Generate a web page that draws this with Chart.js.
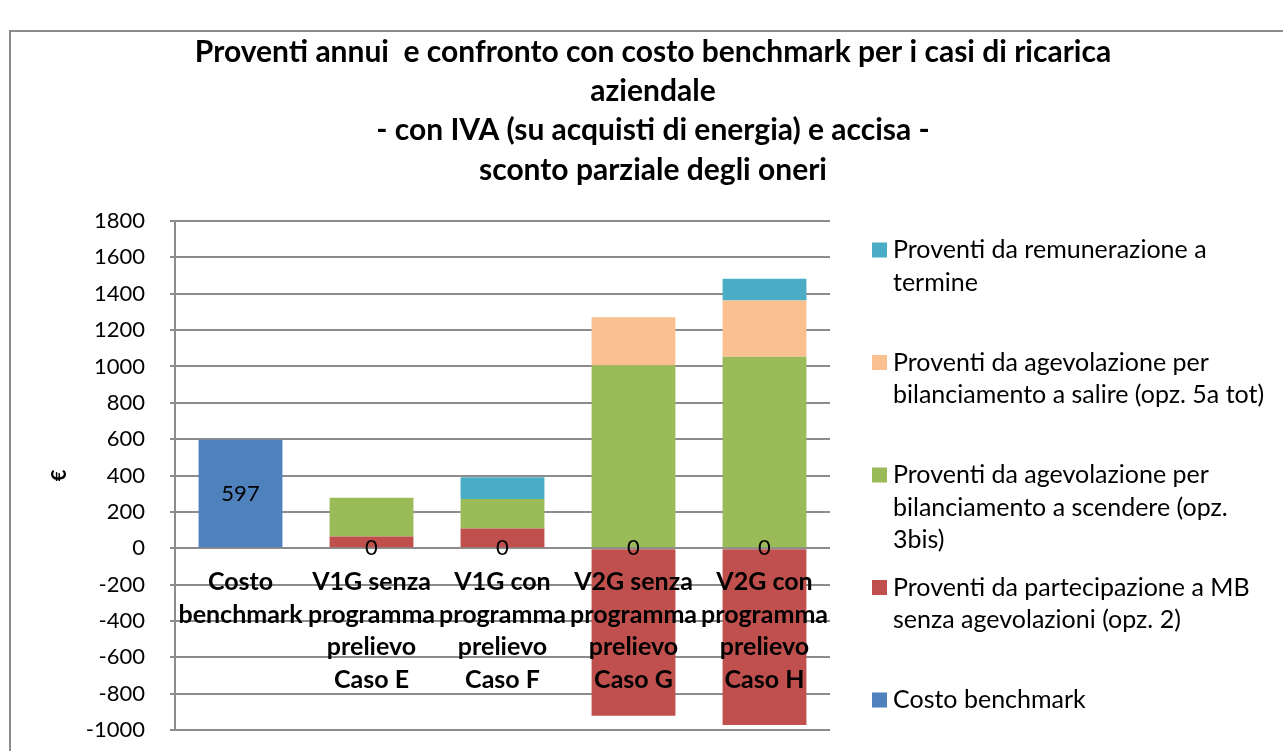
<!DOCTYPE html>
<html>
<head>
<meta charset="utf-8">
<script src="https://cdn.jsdelivr.net/npm/chart.js@4.4.1/dist/chart.umd.min.js"></script>
<style>
  html, body { margin: 0; padding: 0; background: #fff; }
  #wrap { position: relative; width: 1283px; height: 751px; }
</style>
</head>
<body>
<div id="wrap"><canvas id="chart" width="1283" height="751"></canvas></div>
<script>
// --- Données ---
const categories = [
    ['Costo', 'benchmark'],
    ['V1G senza', 'programma', 'prelievo', 'Caso E'],
    ['V1G con', 'programma', 'prelievo', 'Caso F'],
    ['V2G senza', 'programma', 'prelievo', 'Caso G'],
    ['V2G con', 'programma', 'prelievo', 'Caso H']
];
const costoBenchmark = [597, 0, 0, 0, 0];
const proventiMB = [0, 65, 109, -921, -972];
const proventiScendere = [0, 213, 162, 1005, 1053];
const proventiSalire = [0, 0, 0, 265, 310];
const proventiTermine = [0, 0, 120, 0, 120];

const titleLines = [
    'Proventi annui  e confronto con costo benchmark per i casi di ricarica',
    'aziendale',
    '- con IVA (su acquisti di energia) e accisa -',
    'sconto parziale degli oneri'
];
const yAxisTitle = '€';
// legend, in the order shown (top to bottom)
const legendItems = [
    { color: '#4BACC6', lines: ['Proventi da remunerazione a', 'termine'] },
    { color: '#FAC090', lines: ['Proventi da agevolazione per', 'bilanciamento a salire (opz. 5a tot)'] },
    { color: '#9BBB59', lines: ['Proventi da agevolazione per', 'bilanciamento a scendere (opz.', '3bis)'] },
    { color: '#C0504D', lines: ['Proventi da partecipazione a MB', 'senza agevolazioni (opz. 2)'] },
    { color: '#4F81BD', lines: ['Costo benchmark'] }
];

const FONT = 'Lato, "Open Sans", sans-serif';
const GRID = '#8c8c8c';

// Cadre, titre, légende, étiquettes des catégories et des valeurs
const decorPlugin = {
    id: 'decor',
    beforeDraw(chart) {
        const ctx = chart.ctx;
        ctx.save();
        ctx.fillStyle = '#fff';
        ctx.fillRect(0, 0, chart.width, chart.height);
        ctx.strokeStyle = GRID;
        ctx.lineWidth = 2;
        ctx.strokeRect(10, 31, 1400, 800);
        ctx.restore();
    },
    afterDatasetsDraw(chart) {
        // category labels sit on the zero line, over the bars (like Excel)
        const ctx = chart.ctx;
        const xs = chart.scales.x, ys = chart.scales.y;
        const y0 = ys.getPixelForValue(0);
        ctx.save();
        ctx.fillStyle = '#000';
        ctx.font = 'bold 25px ' + FONT;
        ctx.textAlign = 'center';
        ctx.textBaseline = 'middle';
        categories.forEach((lines, i) => {
            const x = xs.getPixelForValue(i);
            lines.forEach((l, j) => ctx.fillText(l, x, y0 + 34 + j * 32.5));
        });
        ctx.restore();
    },
    afterDraw(chart) {
        const ctx = chart.ctx;
        const area = chart.chartArea;
        ctx.save();
        ctx.fillStyle = '#000';
        ctx.textBaseline = 'middle';

        // title
        ctx.font = 'bold 30px ' + FONT;
        ctx.textAlign = 'center';
        titleLines.forEach((t, i) => ctx.fillText(t, 653, 52 + i * 39.3));

        // y axis title, rotated
        ctx.save();
        ctx.translate(60, (area.top + area.bottom) / 2);
        ctx.rotate(-Math.PI / 2);
        ctx.font = 'bold 20px ' + FONT;
        ctx.fillText(yAxisTitle, 0, 0);
        ctx.restore();

        // legend
        ctx.font = '25px ' + FONT;
        ctx.textAlign = 'left';
        legendItems.forEach((item, i) => {
            const y0 = 250 + i * 112.5;
            ctx.fillStyle = item.color;
            ctx.fillRect(872, y0 - 7.5, 15, 15);
            ctx.fillStyle = '#000';
            item.lines.forEach((l, j) => ctx.fillText(l, 893, y0 + j * 32.5));
        });

        // data labels for the benchmark series
        const meta = chart.getDatasetMeta(0);
        ctx.font = '22px ' + FONT;
        ctx.textAlign = 'center';
        meta.data.forEach((bar, i) => {
            const v = chart.data.datasets[0].data[i];
            ctx.fillText(String(v), bar.x, (bar.y + bar.base) / 2);
        });
        ctx.restore();
    }
};

new Chart(document.getElementById('chart'), {
    type: 'bar',
    data: {
        labels: categories.map(c => c.join(' ')),
        datasets: [
            { label: 'Costo benchmark', data: costoBenchmark, backgroundColor: '#4F81BD' },
            { label: 'Proventi da partecipazione a MB senza agevolazioni (opz. 2)', data: proventiMB, backgroundColor: '#C0504D' },
            { label: 'Proventi da agevolazione per bilanciamento a scendere (opz. 3bis)', data: proventiScendere, backgroundColor: '#9BBB59' },
            { label: 'Proventi da agevolazione per bilanciamento a salire (opz. 5a tot)', data: proventiSalire, backgroundColor: '#FAC090' },
            { label: 'Proventi da remunerazione a termine', data: proventiTermine, backgroundColor: '#4BACC6' }
        ]
    },
    options: {
        responsive: false,
        animation: false,
        events: [],
        layout: { padding: { left: 0, top: 221, right: 453, bottom: 21 } },
        datasets: { bar: { categoryPercentage: 1, barPercentage: 0.64, borderWidth: 0 } },
        plugins: {
            legend: { display: false },
            title: { display: false },
            tooltip: { enabled: false }
        },
        scales: {
            x: {
                stacked: true,
                display: false
            },
            y: {
                stacked: true,
                min: -1000,
                max: 1800,
                afterFit(scale) {
                    // fixed axis width; the tick padding must not push the plot area
                    scale.width = 175;
                    scale.paddingTop = 0;
                    scale.paddingBottom = 0;
                },
                ticks: {
                    stepSize: 200,
                    color: '#000',
                    padding: 25,
                    font: { family: FONT, size: 22 },
                    callback: v => String(v)
                },
                grid: { color: GRID, lineWidth: 2, tickLength: 5 },
                border: { color: GRID, width: 2 }
            }
        }
    },
    plugins: [decorPlugin]
});
</script>
</body>
</html>
